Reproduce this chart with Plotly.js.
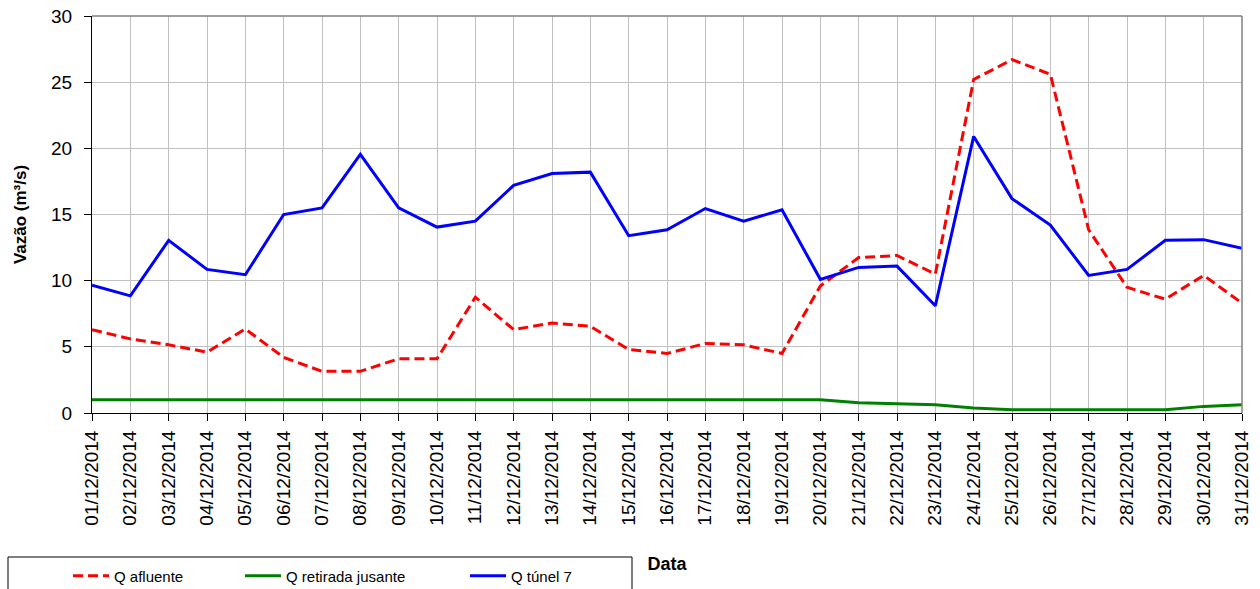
<!DOCTYPE html>
<html>
<head>
<meta charset="utf-8">
<script src="https://cdn.plot.ly/plotly-3.0.1.min.js"></script>
<style>html,body{margin:0;padding:0;background:#fff;}#chart{width:1260px;height:589px;}</style>
</head>
<body>
<div id="chart"></div>
<script>
const dates = ["01/12/2014","02/12/2014","03/12/2014","04/12/2014","05/12/2014","06/12/2014","07/12/2014","08/12/2014","09/12/2014","10/12/2014","11/12/2014","12/12/2014","13/12/2014","14/12/2014","15/12/2014","16/12/2014","17/12/2014","18/12/2014","19/12/2014","20/12/2014","21/12/2014","22/12/2014","23/12/2014","24/12/2014","25/12/2014","26/12/2014","27/12/2014","28/12/2014","29/12/2014","30/12/2014","31/12/2014"];
const qAfluente = [6.3,5.6,5.15,4.6,6.35,4.2,3.15,3.15,4.1,4.1,8.75,6.3,6.8,6.55,4.8,4.5,5.25,5.15,4.5,9.6,11.75,11.9,10.5,25.2,26.7,25.6,13.85,9.5,8.6,10.4,8.3];
const qRetirada = [1,1,1,1,1,1,1,1,1,1,1,1,1,1,1,1,1,1,1,1,0.78,0.7,0.63,0.38,0.25,0.25,0.25,0.25,0.25,0.5,0.63];
const qTunel = [9.65,8.85,13.05,10.85,10.45,15.0,15.5,19.55,15.5,14.05,14.5,17.2,18.1,18.2,13.4,13.85,15.45,14.5,15.35,10.1,11.0,11.1,8.1,20.9,16.2,14.2,10.4,10.85,13.05,13.1,12.45];
const seriesNames = ["Q afluente","Q retirada jusante","Q túnel 7"];

const font = "Liberation Sans, Arial, sans-serif";
const traces = [
  {x: dates, y: qAfluente, name: seriesNames[0], type: "scatter", mode: "lines", legend: "legend",
   line: {color: "#FF0000", width: 3, dash: "10px,5px"}},
  {x: dates, y: qRetirada, name: seriesNames[1], type: "scatter", mode: "lines", legend: "legend2",
   line: {color: "#008000", width: 3}},
  {x: dates, y: qTunel, name: seriesNames[2], type: "scatter", mode: "lines", legend: "legend3",
   line: {color: "#0000FF", width: 3}}
];
function pxX(p) { return (p - 92) / 1150; }
function pxY(p) { return (413 - p) / 397; }
const legBase = {yanchor: "middle", xanchor: "left", bgcolor: "rgba(0,0,0,0)", borderwidth: 0,
  font: {family: font, size: 15, color: "#000"}, itemwidth: 36};
const layout = {
  width: 1260, height: 589,
  margin: {l: 92, r: 18, t: 16, b: 176, autoexpand: false},
  paper_bgcolor: "#fff", plot_bgcolor: "#fff",
  font: {family: font, color: "#000", size: 16},
  showlegend: true,
  legend: Object.assign({}, legBase, {x: pxX(68), y: pxY(576)}),
  legend2: Object.assign({}, legBase, {x: pxX(240), y: pxY(576)}),
  legend3: Object.assign({}, legBase, {x: pxX(465), y: pxY(576)}),
  xaxis: {type: "category", range: [0, 30], showgrid: true, gridcolor: "#c0c0c0", gridwidth: 1,
    showline: true, linecolor: "#000", linewidth: 1, ticks: "outside", ticklen: 7, tickcolor: "#000",
    tickangle: -90, tickfont: {family: font, size: 19}, zeroline: false, ticklabelstandoff: 2,
    title: {text: "<b>Data</b>", font: {family: font, size: 18}, standoff: 32}},
  yaxis: {range: [0, 30], dtick: 5, showgrid: true, gridcolor: "#c0c0c0", gridwidth: 1,
    showline: true, linecolor: "#000", linewidth: 1, ticks: "outside", ticklen: 7, tickcolor: "#000",
    tickfont: {family: font, size: 19}, zeroline: false, ticklabelstandoff: 8,
    title: {text: "<b>Vazão (m³/s)</b>", font: {family: font, size: 17}, standoff: 20}},
  shapes: [
    {type: "line", xref: "paper", yref: "paper", x0: 0, x1: 1, y0: 1, y1: 1, line: {color: "#808080", width: 1.5}},
    {type: "line", xref: "paper", yref: "paper", x0: 1, x1: 1, y0: 0, y1: 1, line: {color: "#808080", width: 1.5}},
    {type: "rect", xref: "paper", yref: "paper", x0: pxX(8), x1: pxX(632), y0: pxY(557), y1: pxY(600),
     line: {color: "#000", width: 1}, fillcolor: "rgba(0,0,0,0)"}
  ]
};
Plotly.newPlot("chart", traces, layout, {displayModeBar: false, staticPlot: true});
</script>
</body>
</html>
